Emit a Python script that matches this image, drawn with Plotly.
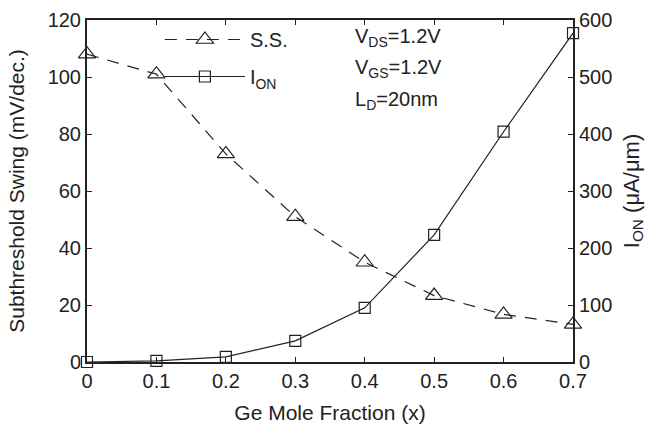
import plotly.graph_objects as go

ge_fraction = [0, 0.1, 0.2, 0.3, 0.4, 0.5, 0.6, 0.7]
ss_values = [108, 101, 73, 51, 35, 23.3, 16.7, 13.2]
ion_values = [0, 2, 9, 37, 95, 223, 404, 577]
x_ticks = [0, 0.1, 0.2, 0.3, 0.4, 0.5, 0.6, 0.7]
left_ticks = [0, 20, 40, 60, 80, 100, 120]
right_ticks = [0, 100, 200, 300, 400, 500, 600]

FONT = "Liberation Sans, Arial, sans-serif"
INK = "#222222"

fig = go.Figure()
fig.add_trace(go.Scatter(
    x=ge_fraction, y=ss_values, name="S.S.", mode="lines+markers",
    line=dict(color=INK, width=1.2, dash="12px,9px"),
    marker=dict(symbol="triangle-up-open", size=15, color=INK, line=dict(width=1.2)),
    cliponaxis=False, legendgroup="a"))
fig.add_trace(go.Scatter(
    x=ge_fraction, y=ion_values, name="I<sub>ON</sub>", mode="lines+markers",
    line=dict(color=INK, width=1.2),
    marker=dict(symbol="square-open", size=11, color=INK, line=dict(width=1.2)),
    yaxis="y2", cliponaxis=False, legendgroup="b"))

axis_common = dict(showgrid=False, zeroline=False, showline=True, linecolor=INK, linewidth=2,
                   ticks="inside", ticklen=5, tickwidth=1.2, tickcolor=INK, automargin=False,
                   tickfont=dict(size=20, color=INK, family=FONT))

fig.update_layout(
    width=653, height=429,
    margin=dict(l=87, r=80, t=20, b=67),
    paper_bgcolor="white", plot_bgcolor="white",
    font=dict(family=FONT, color=INK, size=20),
    xaxis=dict(range=[0, 0.7], tickvals=x_ticks, ticktext=[str(v) for v in x_ticks],
               mirror="ticks", title=dict(text="Ge Mole Fraction (x)", font=dict(size=21), standoff=14),
               **axis_common),
    yaxis=dict(range=[0, 120], tickvals=left_ticks,
               title=dict(text="Subthreshold Swing (mV/dec.)", font=dict(size=21), standoff=17),
               **axis_common),
    yaxis2=dict(range=[0, 600], tickvals=right_ticks, overlaying="y", side="right",
                title=dict(text="I<sub>ON</sub> (μA/μm)", font=dict(size=22), standoff=12),
                **axis_common),
    legend=dict(x=0.15, y=1.0, xanchor="left", yanchor="top", bgcolor="rgba(0,0,0,0)",
                font=dict(size=20, color=INK), itemwidth=80, tracegroupgap=8,
                traceorder="grouped"),
    showlegend=True,
)

notes = ["V<sub>DS</sub>=1.2V", "V<sub>GS</sub>=1.2V", "L<sub>D</sub>=20nm"]
for i, t in enumerate(notes):
    fig.add_annotation(text=t, xref="paper", yref="paper", x=(353 - 87) / 486,
                       y=1 - (38 + 31 * i - 20) / 342,
                       xanchor="left", yanchor="middle", showarrow=False, font=dict(size=20, color=INK))

fig.write_html("out.html")
